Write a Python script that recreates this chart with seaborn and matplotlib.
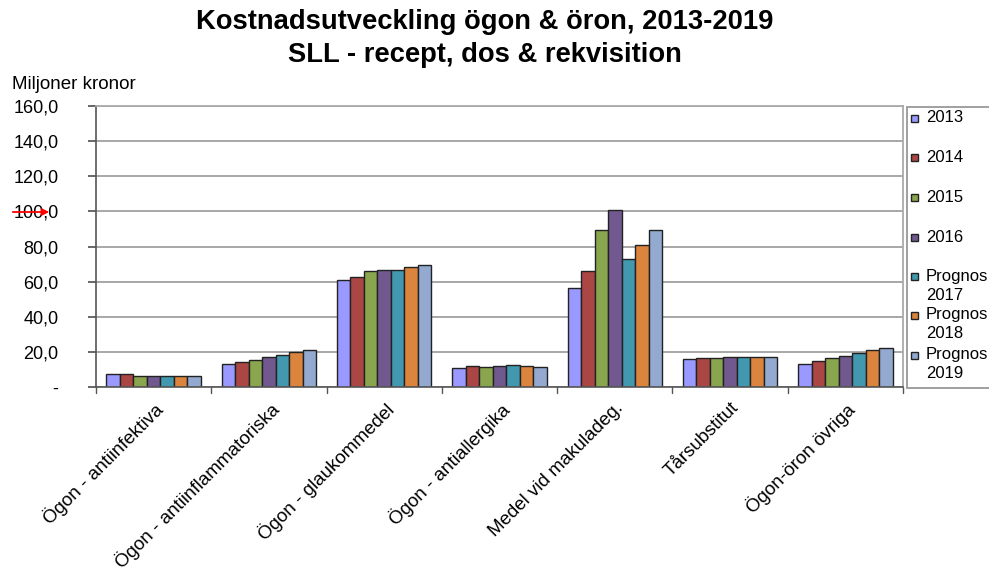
import matplotlib
matplotlib.use("Agg")
import matplotlib.pyplot as plt
import seaborn as sns
import pandas as pd
from matplotlib.patches import Rectangle, FancyArrowPatch

categories = ["Ögon - antiinfektiva", "Ögon - antiinflammatoriska", "Ögon - glaukommedel",
              "Ögon - antiallergika", "Medel vid makuladeg.", "Tårsubstitut", "Ögon-öron övriga"]
series = ["2013", "2014", "2015", "2016", "Prognos\n2017", "Prognos\n2018", "Prognos\n2019"]
v2013 = [7.3, 12.9, 60.8, 10.6, 56.4, 16.0, 13.3]
v2014 = [7.3, 14.1, 62.5, 12.2, 66.3, 16.5, 15.0]
v2015 = [6.2, 15.6, 66.1, 11.2, 89.5, 16.5, 16.3]
v2016 = [6.2, 17.1, 66.9, 12.2, 100.5, 17.3, 17.9]
v2017 = [6.2, 18.4, 66.9, 12.5, 72.8, 17.3, 19.2]
v2018 = [6.2, 20.0, 68.2, 12.0, 80.8, 16.9, 20.9]
v2019 = [6.2, 21.1, 69.7, 11.4, 89.5, 17.1, 22.2]
colors = ["#9999FF", "#AA4643", "#89A54E", "#71588F", "#4198AF", "#DB843D", "#93A9CF"]
yticks = [0, 20, 40, 60, 80, 100, 120, 140, 160]
ytick_labels = ["-", "20,0", "40,0", "60,0", "80,0", "100,0", "120,0", "140,0", "160,0"]

all_vals = [v2013, v2014, v2015, v2016, v2017, v2018, v2019]
rows = []
for s, vals in zip(series, all_vals):
    for c, v in zip(categories, vals):
        rows.append({"cat": c, "series": s, "value": v})
df = pd.DataFrame(rows)

sns.set_theme(style="white")
plt.rcParams["font.family"] = ["Liberation Sans", "DejaVu Sans"]
plt.rcParams["text.color"] = "black"
plt.rcParams["xtick.color"] = "black"
plt.rcParams["ytick.color"] = "black"

W, H = 989, 572
fig = plt.figure(figsize=(W / 100, H / 100), dpi=100)


def fx(px):
    return px / W


def fy(py):
    return 1 - py / H


ax = fig.add_axes([fx(96), fy(387), fx(903) - fx(96), fy(106) - fy(387)])

sns.barplot(data=df, x="cat", y="value", hue="series", order=categories, hue_order=series,
            palette=colors, width=0.82, edgecolor="#222222", linewidth=1.0,
            saturation=1, ax=ax, legend=False, errorbar=None)

ax.set_ylim(0, 160)
ax.set_xlim(-0.5, len(categories) - 0.5)
ax.set_yticks(yticks)
ax.set_yticklabels(ytick_labels, fontsize=13)
ax.yaxis.grid(True, color="#a0a0a0", linewidth=1.3)
ax.set_axisbelow(True)
ax.set_xlabel("")
ax.set_ylabel("")

ax.set_xticks(range(len(categories)))
ax.set_xticklabels(categories, rotation=45, ha="right", rotation_mode="anchor", fontsize=13.5)
ax.tick_params(axis="x", length=0, pad=9)
ax.tick_params(axis="y", length=6, direction="out", color="#555555", left=True, pad=21)
for b in [i - 0.5 for i in range(len(categories) + 1)]:
    ax.plot([b, b], [0, -0.022], transform=ax.get_xaxis_transform(), color="#555555",
            linewidth=1, clip_on=False)

for side in ["top", "right"]:
    ax.spines[side].set_color("#aaaaaa")
    ax.spines[side].set_linewidth(1.3)
for side in ["left", "bottom"]:
    ax.spines[side].set_color("#555555")
    ax.spines[side].set_linewidth(1.2)

fig.text(fx(485), fy(22), "Kostnadsutveckling ögon & öron, 2013-2019", ha="center", va="center",
         fontsize=19.7, fontweight="bold")
fig.text(fx(485), fy(55), "SLL - recept, dos & rekvisition", ha="center", va="center",
         fontsize=19.7, fontweight="bold")
fig.text(fx(12), fy(85), "Miljoner kronor", ha="left", va="center", fontsize=13.5)

# red arrow over 100 label
fig.patches.append(FancyArrowPatch(
    (fx(10), fy(212)), (fx(52), fy(212)), transform=fig.transFigure,
    arrowstyle="-|>", mutation_scale=10, color="red", linewidth=1.3))

# legend drawn manually to match layout
fig.patches.append(Rectangle((fx(907), fy(388)), fx(1000) - fx(907), fy(107) - fy(388),
                             transform=fig.transFigure, facecolor="white",
                             edgecolor="#999999", linewidth=1.3))
leg_y = [118, 158, 197, 237, 276, 315, 355]
for c, s, y in zip(colors, series, leg_y):
    fig.patches.append(Rectangle((fx(911), fy(y + 3.5)), fx(7), 7 / H,
                                 transform=fig.transFigure, facecolor=c,
                                 edgecolor="#222222", linewidth=1.0))
    for k, ln in enumerate(s.split("\n")):
        fig.text(fx(926), fy(y + k * 19), ln, ha="left", va="center", fontsize=12)

fig.savefig("out.png", dpi=100)
